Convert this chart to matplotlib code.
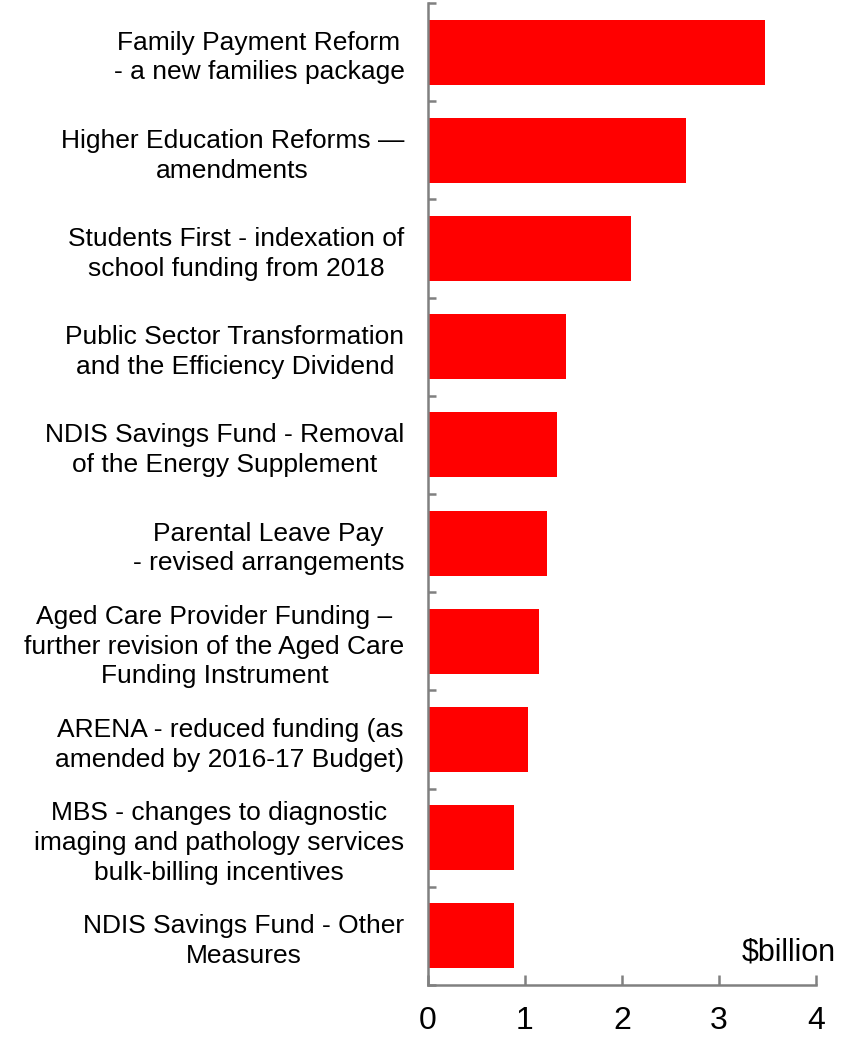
import numpy as np
import matplotlib.pyplot as plt
from matplotlib.ticker import FixedLocator

plt.rcParams['font.family'] = ['Liberation Sans', 'DejaVu Sans']

measures = [
    "Family Payment Reform\n- a new families package",
    "Higher Education Reforms \u2014\namendments",
    "Students First - indexation of\nschool funding from 2018",
    "Public Sector Transformation\nand the Efficiency Dividend",
    "NDIS Savings Fund - Removal\nof the Energy Supplement",
    "Parental Leave Pay\n- revised arrangements",
    "Aged Care Provider Funding \u2013\nfurther revision of the Aged Care\nFunding Instrument",
    "ARENA - reduced funding (as\namended by 2016-17 Budget)",
    "MBS - changes to diagnostic\nimaging and pathology services\nbulk-billing incentives",
    "NDIS Savings Fund - Other\nMeasures",
]
savings = [3.47, 2.66, 2.09, 1.42, 1.33, 1.23, 1.14, 1.03, 0.89, 0.89]

fig = plt.figure(figsize=(8.48, 10.38), dpi=100)
ax = fig.add_axes([428 / 848, 1 - 985 / 1038, 388 / 848, 982 / 1038])

pos = np.arange(len(measures))
ax.barh(pos, savings, height=0.66, color='#ff0000')

ax.set_xlim(0, 4)
ax.set_ylim(len(measures) - 0.5, -0.5)
ax.set_xticks(np.arange(0, 5, 1))
ax.set_yticks(pos)
ax.set_yticklabels(measures, fontsize=19, multialignment='center', linespacing=1.3)
ax.yaxis.set_minor_locator(FixedLocator(np.arange(-0.5, len(measures), 1)))

grey = '#808080'
for side in ['top', 'right']:
    ax.spines[side].set_visible(False)
for side in ['left', 'bottom']:
    ax.spines[side].set_color(grey)
    ax.spines[side].set_linewidth(1.8)

ax.tick_params(axis='y', which='major', length=0, pad=17)
ax.tick_params(axis='y', which='minor', direction='in', length=5.5, width=1.8, color=grey)
ax.tick_params(axis='x', direction='in', length=7.5, width=1.8, color=grey,
               labelsize=23, pad=15)

ax.text(1.05, 0.025, "$billion", transform=ax.transAxes, ha='right', va='baseline',
        fontsize=22)

fig.savefig('out.png', dpi=100)
